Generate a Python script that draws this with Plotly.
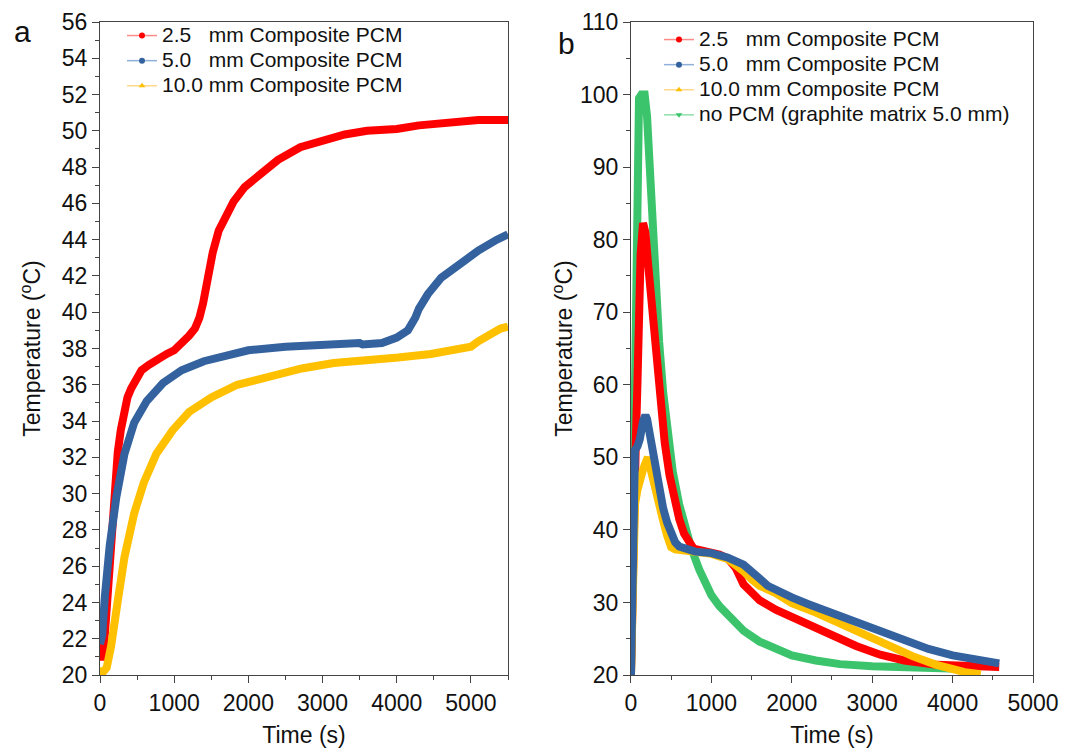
import plotly.graph_objects as go
from plotly.subplots import make_subplots

# ---------------- Panel a data (heating) ----------------
a_red_t = [0, 40, 70, 110, 150, 200, 240, 280, 320, 370, 420, 480, 560, 660, 760, 900, 1000, 1110, 1200, 1280,
           1340, 1390, 1420, 1460, 1520, 1600, 1700, 1800, 1950, 2150, 2400, 2700, 3000, 3300, 3600, 4000, 4300,
           4700, 5100, 5500]
a_red_T = [21, 21, 22.5, 25, 27.5, 30.5, 32.3, 33.5, 34.4, 35.3, 35.8, 36.3, 36.8, 37.1, 37.4, 37.7, 37.9, 38.3,
           38.7, 39.1, 39.7, 40.5, 41.3, 42.2, 43.3, 44.5, 45.4, 46.1, 46.9, 47.6, 48.4, 49.1, 49.5, 49.8, 50.0,
           50.1, 50.3, 50.5, 50.6, 50.6]

a_blue_t = [0, 30, 65, 130, 220, 330, 460, 630, 850, 1100, 1400, 1700, 2000, 2500, 2900, 3300, 3500, 3540, 3600,
            3800, 4000, 4150, 4250, 4300, 4420, 4600, 4900, 5100, 5350, 5500]
a_blue_T = [21.7, 22.2, 24.3, 27.1, 29.8, 32.2, 33.9, 35.1, 36.1, 36.8, 37.3, 37.6, 37.9, 38.1, 38.2, 38.3, 38.3,
            38.22, 38.25, 38.3, 38.6, 39.0, 39.7, 40.2, 41.0, 41.9, 42.8, 43.4, 44.0, 44.3]

a_yel_t = [0, 50, 90, 150, 240, 330, 460, 590, 760, 980, 1200, 1500, 1850, 2280, 2720, 3150, 3590, 4020, 4460,
           4800, 5000, 5100, 5250, 5400, 5500]
a_yel_T = [20.2, 20.2, 20.4, 21.6, 24.1, 26.5, 28.9, 30.6, 32.2, 33.5, 34.5, 35.3, 36.0, 36.5, 36.9, 37.2, 37.3,
           37.5, 37.7, 37.9, 38.1, 38.4, 38.8, 39.1, 39.2]

# ---------------- Panel b data (pulse / cooling) ----------------
b_green_t = [0, 20, 40, 60, 80, 100, 130, 170, 200, 230, 260, 300, 350, 400, 450, 520, 600, 680, 750, 850, 1000,
             1100, 1200, 1400, 1600, 1800, 2000, 2300, 2600, 3000, 3400, 3800, 4290]
b_green_T = [20, 35, 55, 75, 92, 99.5, 100, 100, 97, 91, 83, 74, 66, 59, 53.5, 48, 43.5, 40, 37.5, 34.5, 31,
             29.5, 28.3, 26.1, 24.6, 23.5, 22.7, 22, 21.5, 21.2, 21, 20.9, 20.8]

b_red_t = [0, 20, 40, 60, 80, 100, 120, 150, 180, 210, 250, 300, 350, 420, 480, 540, 600, 660, 720, 780, 900, 1000,
           1100, 1200, 1300, 1400, 1500, 1600, 1800, 2000, 2200, 2500, 2800, 3100, 3400, 3800, 4200, 4580]
b_red_T = [20, 35, 50, 52, 60, 70, 78, 82.3, 81, 77, 72, 65, 59, 52, 47.5, 44, 41.5, 39.5, 38.2, 37.4, 37.1, 36.9,
           36.6, 36.1, 34.8, 32.5, 31.2, 30.3, 29, 28, 27, 25.4, 24, 22.8, 22, 21.4, 21.2, 21.1]

b_blue_t = [0, 15, 30, 50, 80, 110, 150, 180, 200, 230, 260, 300, 350, 400, 450, 500, 550, 600, 700, 800, 1000,
            1200, 1400, 1500, 1600, 1700, 1800, 2000, 2200, 2500, 2800, 3100, 3400, 3700, 4000, 4300, 4580]
b_blue_T = [20, 38, 47, 51, 51.5, 52.5, 55, 55.8, 55.3, 53.5, 51, 48.2, 45.5, 43, 41, 39.5, 38.3, 37.7, 37.2, 37,
            36.8, 36.2, 35.2, 34.4, 33.3, 32.3, 31.7, 30.7, 29.8, 28.6, 27.3, 26, 24.8, 23.6, 22.7, 22, 21.6]

b_yel_t = [0, 15, 30, 50, 80, 110, 150, 180, 210, 240, 270, 300, 350, 400, 450, 500, 550, 650, 800, 1000, 1200,
           1300, 1400, 1500, 1600, 1800, 2000, 2300, 2600, 2900, 3200, 3500, 3800, 4000, 4150, 4350]
b_yel_T = [20, 33, 40, 43.5, 45.5, 47, 48.3, 49.2, 50, 48.6, 47, 45.5, 43.3, 41.3, 39.2, 37.6, 37.3, 37.2, 37,
           36.7, 36, 35.3, 34.3, 33.2, 32.3, 31.3, 29.9, 28.6, 27.1, 25.6, 24.0, 22.6, 21.4, 20.8, 20.4, 20.1]

names_a = ["2.5\u00a0\u00a0\u00a0mm Composite PCM", "5.0\u00a0\u00a0\u00a0mm Composite PCM",
           "10.0 mm Composite PCM"]
names_b = names_a + ["no PCM (graphite matrix 5.0 mm)"]

RED, BLUE, YEL, GRN = "#FF0000", "#34629E", "#FFC000", "#3CC46C"
LRED, LBLUE, LYEL, LGRN = "#FF8A8A", "#8FB0D8", "#FFD98A", "#8EE0AA"

FONT = "Arial, Liberation Sans, sans-serif"
TXT = "#111111"

fig = make_subplots(rows=1, cols=2, horizontal_spacing=0.1318)

LW = 8
fig.add_trace(go.Scatter(x=a_red_t, y=a_red_T, mode="lines", line=dict(color=RED, width=LW), showlegend=False), 1, 1)
fig.add_trace(go.Scatter(x=a_blue_t, y=a_blue_T, mode="lines", line=dict(color=BLUE, width=LW), showlegend=False), 1, 1)
fig.add_trace(go.Scatter(x=a_yel_t, y=a_yel_T, mode="lines", line=dict(color=YEL, width=LW), showlegend=False), 1, 1)

fig.add_trace(go.Scatter(x=b_green_t, y=b_green_T, mode="lines", line=dict(color=GRN, width=LW), showlegend=False), 1, 2)
fig.add_trace(go.Scatter(x=b_red_t, y=b_red_T, mode="lines", line=dict(color=RED, width=LW), showlegend=False), 1, 2)
fig.add_trace(go.Scatter(x=b_yel_t, y=b_yel_T, mode="lines", line=dict(color=YEL, width=LW), showlegend=False), 1, 2)
fig.add_trace(go.Scatter(x=b_blue_t, y=b_blue_T, mode="lines", line=dict(color=BLUE, width=LW), showlegend=False), 1, 2)

# legend entries (thin line + small marker, like the original)
specs = [(RED, LRED, "circle"), (BLUE, LBLUE, "circle"), (YEL, LYEL, "triangle-up"), (GRN, LGRN, "triangle-down")]
LEG_TXT = '<span style="font-size:21px">{}</span>'
for i, nm in enumerate(names_a):
    c, lc, sym = specs[i]
    fig.add_trace(go.Scatter(x=[None], y=[None], mode="lines+markers", name=LEG_TXT.format(nm),
                             line=dict(color=lc, width=1.5), marker=dict(color=c, size=6, symbol=sym),
                             legend="legend"), 1, 1)
for i, nm in enumerate(names_b):
    c, lc, sym = specs[i]
    fig.add_trace(go.Scatter(x=[None], y=[None], mode="lines+markers", name=LEG_TXT.format(nm),
                             line=dict(color=lc, width=1.5), marker=dict(color=c, size=6, symbol=sym),
                             legend="legend2"), 1, 2)

axis_common = dict(showline=True, linecolor="#444444", linewidth=1, mirror=True, ticks="outside",
                   ticklen=7, tickwidth=1, tickcolor="#444444", showgrid=False, zeroline=False,
                   automargin=False, tickfont=dict(size=23, color=TXT, family=FONT),
                   minor=dict(ticks="outside", ticklen=4, tickwidth=1, tickcolor="#444444", showgrid=False))

fig.update_xaxes(**axis_common)
fig.update_yaxes(**axis_common)

title_font = dict(size=23, family=FONT, color=TXT)
fig.update_xaxes(range=[0, 5500], tickvals=[0, 1000, 2000, 3000, 4000, 5000], row=1, col=1,
                 minor=dict(dtick=500, tick0=0), domain=[0, 0.4373],
                 title=dict(text="Time (s)", font=title_font, standoff=12))
fig.update_yaxes(range=[20, 56], dtick=2, tick0=20, row=1, col=1, minor=dict(dtick=1, tick0=20),
                 title=dict(text="Temperature (<sup>o</sup>C)", font=title_font, standoff=14))
fig.update_xaxes(range=[0, 5000], dtick=1000, tick0=0, row=1, col=2, minor=dict(dtick=500, tick0=0),
                 domain=[0.5691, 1.0],
                 title=dict(text="Time (s)", font=title_font, standoff=12))
fig.update_yaxes(range=[20, 110], dtick=10, tick0=20, row=1, col=2, minor=dict(dtick=5, tick0=20),
                 title=dict(text="Temperature (<sup>o</sup>C)", font=title_font, standoff=0))

W_plot = 1089 - 100 - 56
H_plot = 749 - 22 - 74


def px2paper(px, py):
    return (px - 100) / W_plot, (675 - py) / H_plot


ax, ay = px2paper(22, 32)
bx, by = px2paper(566, 44)
l1x, l1y = px2paper(122, 18)
l2x, l2y = px2paper(659, 22)

fig.update_layout(
    width=1089, height=749,
    template="none",
    paper_bgcolor="white", plot_bgcolor="white",
    margin=dict(l=100, r=56, t=22, b=74, pad=0),
    font=dict(family=FONT, size=17, color=TXT),
    legend=dict(x=l1x, y=l1y, xanchor="left", yanchor="top", bgcolor="rgba(0,0,0,0)",
                font=dict(size=17, family=FONT, color=TXT), tracegroupgap=0),
    legend2=dict(x=l2x, y=l2y, xanchor="left", yanchor="top", bgcolor="rgba(0,0,0,0)",
                 font=dict(size=17, family=FONT, color=TXT), tracegroupgap=0),
    annotations=[
        dict(text="a", x=ax, y=ay, xref="paper", yref="paper", showarrow=False, xanchor="center",
             yanchor="middle", font=dict(size=30, family=FONT, color=TXT)),
        dict(text="b", x=bx, y=by, xref="paper", yref="paper", showarrow=False, xanchor="center",
             yanchor="middle", font=dict(size=30, family=FONT, color=TXT)),
    ],
)

fig.write_html("out.html", config={"displayModeBar": False},
               post_script="document.body.style.margin='0';document.body.style.overflow='hidden';")
